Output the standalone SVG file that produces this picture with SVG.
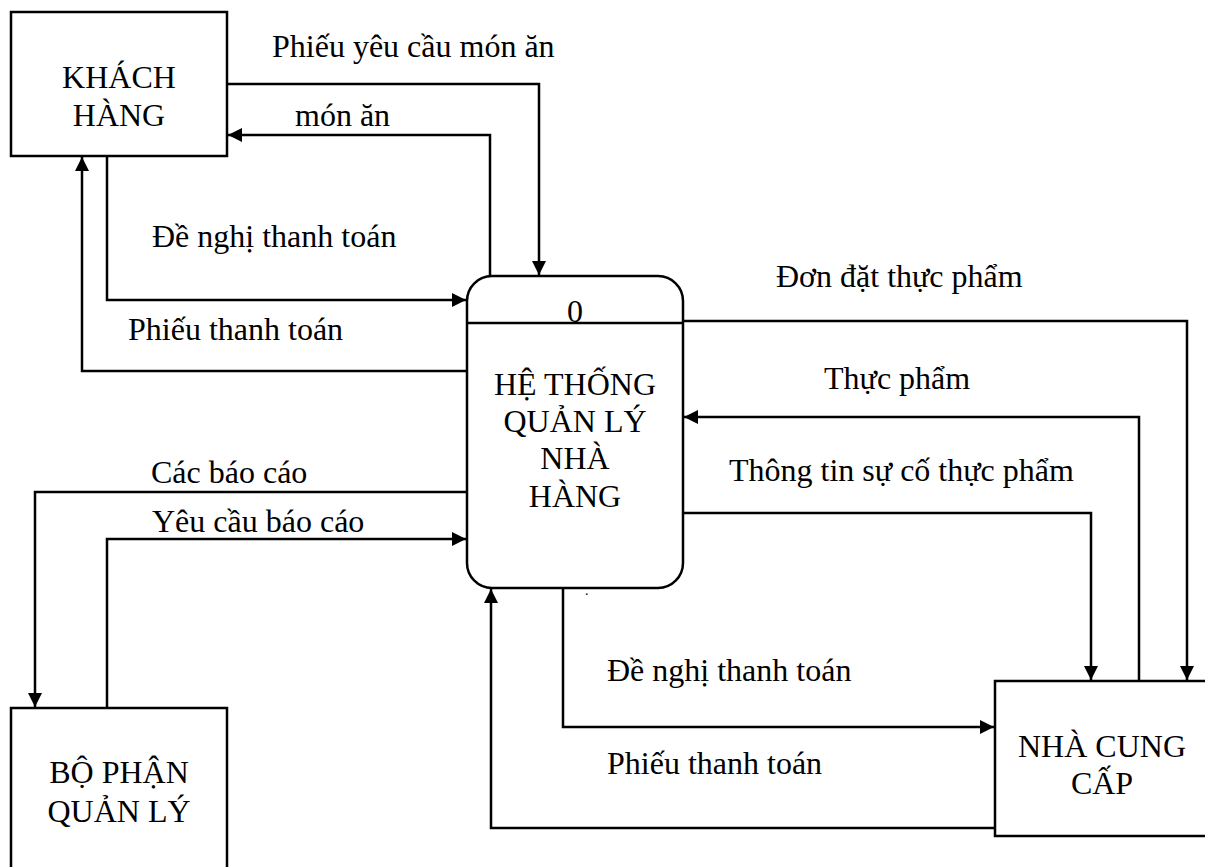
<svg xmlns="http://www.w3.org/2000/svg" width="1205" height="867" viewBox="0 0 1205 867">
  <style>
    .box { fill: #fff; stroke: #000; stroke-width: 2.5; }
    .flow { fill: none; stroke: #000; stroke-width: 2.5; marker-end: url(#arrow); }
    text { font-family: "Liberation Serif", "Times New Roman", serif; font-size: 32px; fill: #000; }
    .c { text-anchor: middle; }
  </style>
  <defs>
    <marker id="arrow" markerUnits="userSpaceOnUse" markerWidth="16" markerHeight="16" refX="14" refY="7" orient="auto">
      <path d="M0,0 L14,7 L0,14 z" fill="#000"/>
    </marker>
  </defs>
  <rect width="1205" height="867" fill="#fff"/>

  <!-- Data flows -->
  <g id="connectors">
    <path class="flow" d="M227,84 H539 V275"/>
    <path class="flow" d="M490,277 V135 H228"/>
    <path class="flow" d="M107,156 V300 H466"/>
    <path class="flow" d="M467,371 H82 V157"/>
    <path class="flow" d="M467,492 H35 V707"/>
    <path class="flow" d="M107,708 V539 H466"/>
    <path class="flow" d="M683,321 H1187 V680"/>
    <path class="flow" d="M1139,681 V417 H684"/>
    <path class="flow" d="M683,513 H1091 V680"/>
    <path class="flow" d="M563,588 V727 H994"/>
    <path class="flow" d="M995,828 H491 V589"/>

    <text x="272" y="57">Phiếu yêu cầu món ăn</text>
    <text x="295" y="126">món ăn</text>
    <text x="152" y="247">Đề nghị thanh toán</text>
    <text x="128" y="340">Phiếu thanh toán</text>
    <text x="151" y="483">Các báo cáo</text>
    <text x="152" y="532">Yêu cầu báo cáo</text>
    <text x="776" y="287">Đơn đặt thực phẩm</text>
    <text x="824" y="389">Thực phẩm</text>
    <text x="729" y="481">Thông tin sự cố thực phẩm</text>
    <text x="607" y="681">Đề nghị thanh toán</text>
    <text x="607" y="774">Phiếu thanh toán</text>
    <text x="585" y="595" style="font-size:14px">.</text>
  </g>

  <g id="khach-hang">
    <rect class="box" x="11" y="12" width="216" height="144"/>
    <text class="c" x="119" y="88">KHÁCH</text>
    <text class="c" x="119" y="126">HÀNG</text>
  </g>

  <g id="he-thong">
    <rect class="box" x="467" y="276" width="216" height="312" rx="25" ry="25"/>
    <line x1="467" y1="323" x2="683" y2="323" stroke="#000" stroke-width="2.5"/>
    <text class="c" x="575" y="322">0</text>
    <text class="c" x="575" y="395">HỆ THỐNG</text>
    <text class="c" x="575" y="432">QUẢN LÝ</text>
    <text class="c" x="575" y="469">NHÀ</text>
    <text class="c" x="575" y="507">HÀNG</text>
  </g>

  <g id="bo-phan-quan-ly">
    <rect class="box" x="11" y="708" width="216" height="175"/>
    <text class="c" x="119" y="783">BỘ PHẬN</text>
    <text class="c" x="119" y="822">QUẢN LÝ</text>
  </g>

  <g id="nha-cung-cap">
    <rect class="box" x="995" y="681" width="230" height="155"/>
    <text class="c" x="1102" y="757">NHÀ CUNG</text>
    <text class="c" x="1102" y="794">CẤP</text>
  </g>
</svg>
